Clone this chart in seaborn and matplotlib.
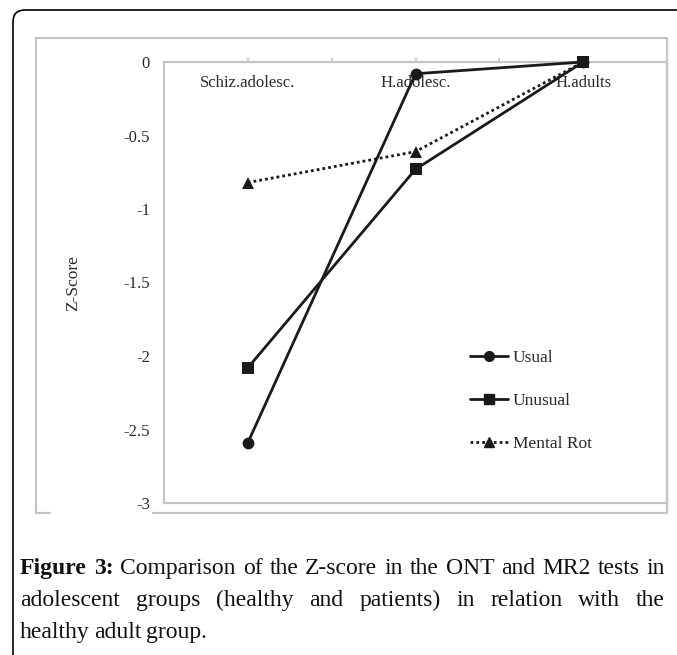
import numpy as np
import pandas as pd
import matplotlib
matplotlib.use("Agg")
import matplotlib.pyplot as plt
from matplotlib.patches import FancyBboxPatch
from matplotlib.lines import Line2D
import seaborn as sns

# === DATI ===
groups = ["Schiz.adolesc.", "H.adolesc.", "H.adults"]
usual = [-2.59, -0.08, 0.0]
unusual = [-2.08, -0.73, 0.0]
mental_rot = [-0.82, -0.61, 0.0]
series_names = ["Usual", "Unusual", "Mental Rot"]
yticks = [0, -0.5, -1, -1.5, -2, -2.5, -3]
ytick_labels = ["0", "-0.5", "-1", "-1.5", "-2", "-2.5", "-3"]

pos = np.arange(len(groups)) + 0.5
df = pd.DataFrame({
    "x": np.tile(pos, 3),
    "z": usual + unusual + mental_rot,
    "serie": np.repeat(series_names, len(groups)),
})

W, H = 677, 655
fig = plt.figure(figsize=(W / 100, H / 100), dpi=100)
sns.set_style("white")
plt.rcParams["font.family"] = ["Liberation Serif", "DejaVu Serif"]

def fx(px):
    return px / W

def fy(py):
    return 1 - py / H

# cornice esterna arrotondata
box = FancyBboxPatch((fx(13), fy(720)), fx(760) - fx(13), fy(10) - fy(720),
                     boxstyle="round,pad=0,rounding_size=0.018",
                     transform=fig.transFigure, fill=False,
                     edgecolor="black", linewidth=1.2)
fig.patches.append(box)

# cornice grigia del grafico
gray = "#c4c4c4"
for (x0, y0, x1, y1) in [(36, 38, 36, 513), (36, 38, 667, 38), (667, 38, 667, 513),
                         (36, 513, 50, 513), (153, 513, 667, 513)]:
    fig.add_artist(Line2D([fx(x0), fx(x1)], [fy(y0), fy(y1)], color=gray, lw=1.6,
                          transform=fig.transFigure))

ax = fig.add_axes([fx(164), fy(503), fx(667) - fx(164), fy(62) - fy(503)])

sns.lineplot(data=df, x="x", y="z", hue="serie", style="serie",
             palette=["#1a1a1a"] * 3,
             markers={"Usual": "o", "Unusual": "s", "Mental Rot": "^"},
             dashes={"Usual": "", "Unusual": "", "Mental Rot": (1, 1.1)},
             markersize=8.5, linewidth=2, markeredgewidth=0, legend=False,
             ax=ax, clip_on=False, zorder=5)

ax.set_xlim(0, 3)
ax.set_ylim(-3, 0)
ax.set_xlabel("")
ax.set_ylabel("")
for s in ax.spines.values():
    s.set_color(gray)
    s.set_linewidth(1.6)

ax.set_yticks(yticks)
ax.set_yticklabels(ytick_labels, fontsize=12, color="#2a2a2a")
ax.tick_params(axis="y", direction="out", length=4, color=gray, width=1.2, pad=6)

ax.xaxis.tick_top()
ax.set_xticks([0.5, 1, 1.5, 2, 2.5])
ax.set_xticklabels([])
ax.tick_params(axis="x", direction="out", length=3, color=gray, width=1.2)

for p, g in zip(pos, groups):
    ax.text(p, -0.14, g, ha="center", va="center", fontsize=12, color="#2a2a2a")

fig.text(fx(73), fy(283), "Z-Score", rotation=90, ha="center", va="center",
         fontsize=12.5, color="#2a2a2a")

# legenda
handles = [
    Line2D([], [], color="#1a1a1a", lw=2, marker="o", markersize=7),
    Line2D([], [], color="#1a1a1a", lw=2, marker="s", markersize=7),
    Line2D([], [], color="#1a1a1a", lw=2, ls=(0, (1, 1.1)), marker="^", markersize=7),
]
fig.legend(handles, series_names, loc="upper left",
           bbox_to_anchor=(fx(454), fy(334)), frameon=False, fontsize=12.5,
           handlelength=2.2, handletextpad=0.3, labelspacing=1.55)

# didascalia giustificata
cap_lines = [
    [("Figure", True), ("3:", True), ("Comparison", False), ("of", False), ("the", False),
     ("Z-score", False), ("in", False), ("the", False), ("ONT", False), ("and", False),
     ("MR2", False), ("tests", False), ("in", False)],
    [(w, False) for w in "adolescent groups (healthy and patients) in relation with the".split()],
    [(w, False) for w in "healthy adult group.".split()],
]
cap_base = [574, 606, 638]
left, right = 20, 665
renderer = fig.canvas.get_renderer()
for i, (words, yy) in enumerate(zip(cap_lines, cap_base)):
    texts = [fig.text(0, fy(yy), w, fontsize=17, va="baseline", ha="left",
                      fontweight="bold" if b else "normal", color="#111111")
             for w, b in words]
    widths = [t.get_window_extent(renderer).width for t in texts]
    if i < len(cap_lines) - 1:
        gap = (right - left - sum(widths)) / (len(words) - 1)
    else:
        gap = 4.5
    x = left
    for t, w in zip(texts, widths):
        t.set_x(fx(x))
        x += w + gap

fig.savefig("out.png", dpi=100)
